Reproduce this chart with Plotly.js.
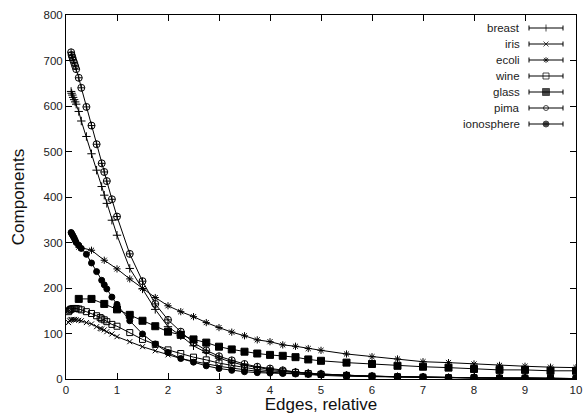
<!DOCTYPE html>
<html>
<head>
<meta charset="utf-8">
<script src="https://cdn.plot.ly/plotly-3.0.1.min.js"></script>
<style>html,body{margin:0;padding:0;background:#fff;}#chart{width:588px;height:414px;}</style>
</head>
<body>
<div id="chart"></div>
<script>
// ---- data ----
var names = ["breast", "iris", "ecoli", "wine", "glass", "pima", "ionosphere"];

var xTail = [1.25,1.5,1.75,2,2.25,2.5,2.75,3,3.25,3.5,3.75,4,4.25,4.5,4.75,5,5.5,6,6.5,7,7.5,8,8.5,9,9.5,10];
var xHeadA = [0.1,0.11,0.125,0.14,0.16,0.18,0.2,0.25,0.3,0.4,0.5,0.6,0.7,0.75,0.8,0.9,1];
var xHeadB = [0.05,0.07,0.09,0.11,0.14,0.17,0.2,0.25,0.3,0.4,0.5,0.6,0.67,0.7,0.75,0.8,0.9,1];
var xHeadC = [0.25,0.5,0.75,1];

var breastY = [632,628,624,619,614,609,604,588,567,533,495,459,423,404,386,349,316,
  243,198,153,115,95,73,58,46,37,30,25,21,18,15,13,11,8,6,5,4,3,3,2,2,1,1];
var pimaY = [718,712,707,701,695,688,681,662,640,598,557,516,474,455,435,395,357,
  275,215,165,130,104,80,63,50,41,33,27,23,19,15,12,11,8,6,5,4,3,3,2,2,2,1];
var ionosphereY = [322,320,317,314,310,305,300,294,287,274,255,236,217,207,198,180,164,
  128,99,77,58,45,37,29,23,19,16,14,13,12,11,10,9,8,6,5,4,3,3,2,2,2,1];
var wineY = [148,151,153,154,155,155,155,154,152,148,144,139,135,132,130,126,120,116,
  102,87,76,64,56,48,42,35,30,25,21,18,16,14,12,10,8,6,5,4,3,3,2,2,2,1];
var irisY = [124,128,130,131,131,131,130,129,128,124,121,115,111,110,108,104,99,93,
  82,71,62,53,45,39,33,28,24,20,17,15,13,11,9,8,6,5,4,3,2,2,2,1,1,1];
var glassY = [176,176,165,153,
  141,128,116,104,97,87,80,71,65,60,56,53,51,48,43,40,36,33,29,27,25,22,20,20,18,18];
var ecoliY = [290,283,261,242,
  220,199,179,161,148,137,124,113,103,95,86,82,75,72,67,63,55,49,44,38,36,33,30,28,26,25];

var xA = xHeadA.concat(xTail), xB = xHeadB.concat(xTail), xC = xHeadC.concat(xTail);
var seriesX = {breast: xA, iris: xB, ecoli: xC, wine: xB, glass: xC, pima: xA, ionosphere: xA};
var seriesY = {breast: breastY, iris: irisY, ecoli: ecoliY, wine: wineY, glass: glassY, pima: pimaY, ionosphere: ionosphereY};

// ---- styles ----
var symbols = {breast:"cross-thin-open", iris:"x-thin-open", ecoli:"asterisk-open", wine:"square-open",
  glass:"square", pima:"circle-cross-open", ionosphere:"circle"};
var sizes = {breast:6, iris:5, ecoli:6, wine:6, glass:7, pima:7, ionosphere:6};
var legSymbols = {breast:"line-ns-open", iris:"x-thin-open", ecoli:"asterisk-open", wine:"square-open",
  glass:"square", pima:"circle-open", ionosphere:"circle"};
var legSizes = {breast:5, iris:5, ecoli:5, wine:6, glass:7, pima:5, ionosphere:6};

var traces = [];
names.forEach(function(n){
  traces.push({
    x: seriesX[n], y: seriesY[n], type: "scatter", mode: "lines+markers", name: n,
    line: {color: "#000", width: 1},
    marker: {symbol: symbols[n], size: sizes[n], color: "#000", line: {color: "#000", width: 1}},
    showlegend: false, hoverinfo: "skip"
  });
});

// ---- custom gnuplot-style legend (text right, sample with caps) ----
var W = 588, H = 414, mL = 66, mR = 12, mT = 15, mB = 35;
var pw = W - mL - mR, ph = H - mT - mB;
function px2x(p){ return (p - mL) / pw; }
function py2y(p){ return (H - mB - p) / ph; }
var legTop = 28, legStep = 16, textRight = 522, sx0 = 529, sx1 = 563, cap = 2.5;
var annotations = [], shapes = [];
var legX = [], legY = [], legSym = [], legSz = [];
names.forEach(function(n, i){
  var yp = legTop + legStep * i;
  annotations.push({xref:"paper", yref:"paper", x: px2x(textRight), y: py2y(yp), xanchor:"right", yanchor:"middle",
    text: n, showarrow:false, font:{size:11.5, color:"#222"}});
  shapes.push({type:"line", xref:"paper", yref:"paper", x0: px2x(sx0), x1: px2x(sx1), y0: py2y(yp), y1: py2y(yp), line:{color:"#000", width:1}});
  shapes.push({type:"line", xref:"paper", yref:"paper", x0: px2x(sx0), x1: px2x(sx0), y0: py2y(yp - cap), y1: py2y(yp + cap), line:{color:"#000", width:1}});
  shapes.push({type:"line", xref:"paper", yref:"paper", x0: px2x(sx1), x1: px2x(sx1), y0: py2y(yp - cap), y1: py2y(yp + cap), line:{color:"#000", width:1}});
  legX.push(px2x((sx0 + sx1) / 2)); legY.push(py2y(yp)); legSym.push(legSymbols[n]); legSz.push(legSizes[n]);
});
traces.push({x: legX, y: legY, xaxis:"x2", yaxis:"y2", type:"scatter", mode:"markers", showlegend:false, hoverinfo:"skip",
  cliponaxis:false, marker:{symbol: legSym, size: legSz, color:"#000", line:{color:"#000", width:1}}});

var axisCommon = {showline:true, linecolor:"#000", linewidth:1, mirror:"ticks", ticks:"inside", ticklen:6,
  tickcolor:"#000", showgrid:false, zeroline:false, tickfont:{size:11.5, color:"#222"}};

var layout = {
  width: W, height: H, margin: {l:mL, r:mR, t:mT, b:mB},
  paper_bgcolor:"#fff", plot_bgcolor:"#fff",
  font: {family:"Liberation Sans, Arial, Helvetica, sans-serif", color:"#222"},
  showlegend:false,
  xaxis: Object.assign({}, axisCommon, {range:[0,10], dtick:1, tick0:0,
    title:{text:"Edges, relative", font:{size:17, color:"#111"}, standoff:2}}),
  yaxis: Object.assign({}, axisCommon, {range:[0,800], dtick:100, tick0:0,
    title:{text:"Components", font:{size:17, color:"#111"}, standoff:14}}),
  xaxis2: {overlaying:"x", range:[0,1], visible:false, fixedrange:true},
  yaxis2: {overlaying:"y", range:[0,1], visible:false, fixedrange:true},
  annotations: annotations, shapes: shapes
};

Plotly.newPlot("chart", traces, layout, {staticPlot:true, displayModeBar:false});
</script>
</body>
</html>
